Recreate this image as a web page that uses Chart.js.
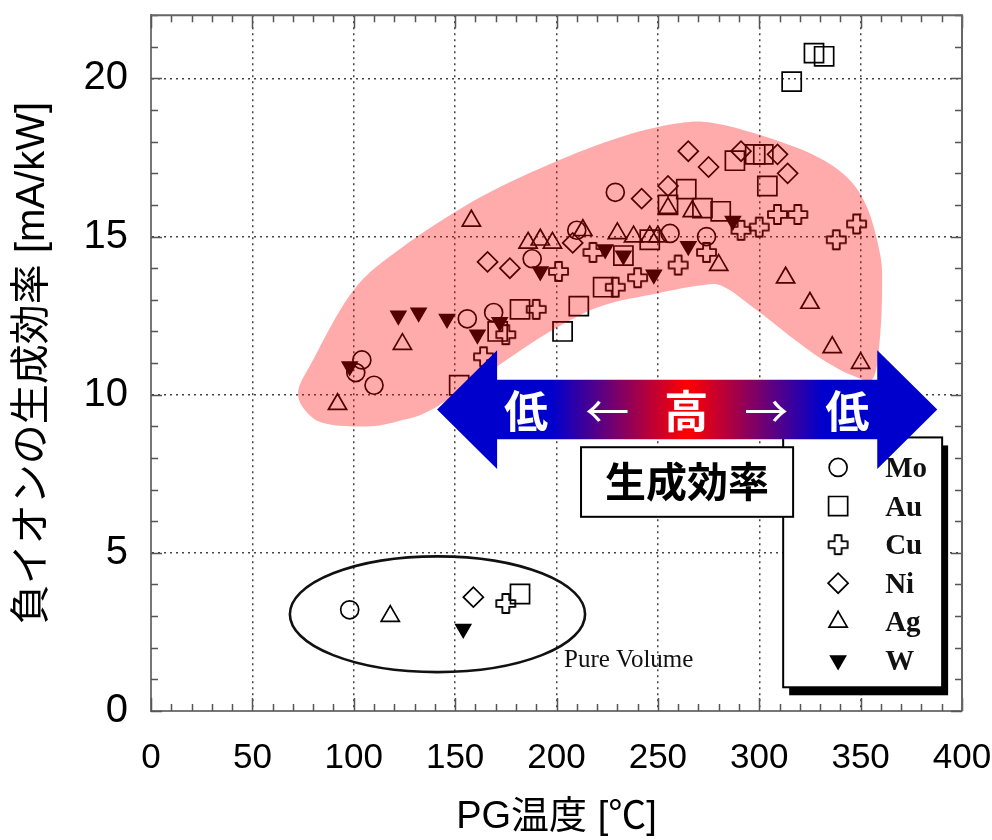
<!DOCTYPE html>
<html>
<head>
<meta charset="utf-8">
<script src="https://cdn.jsdelivr.net/npm/chart.js@4.4.0/dist/chart.umd.min.js"></script>
<style>
html,body{margin:0;padding:0;background:#fff;}
#wrap{width:992px;height:840px;position:relative;}
canvas{display:block;}
</style>
</head>
<body>
<div id="wrap"><canvas id="c" width="992" height="840"></canvas></div>
<script>
// ---------------- data ----------------
const xTitle = 'PG温度 [℃]';
const yTitle = '負イオンの生成効率 [mA/kW]';
const xTickValues = [0, 50, 100, 150, 200, 250, 300, 350, 400];
const yTickValues = [0, 5, 10, 15, 20];
const seriesNames = ['Mo', 'Au', 'Cu', 'Ni', 'Ag', 'W'];

const moX = [98, 104, 101, 110, 156, 169, 188, 210, 229, 256, 274];
const moY = [3.2, 11.1, 10.7, 10.3, 12.4, 12.6, 14.3, 15.2, 16.4, 15.1, 15.0];

const auX = [182, 152, 171, 182, 203, 211, 223, 233, 246, 255, 264, 272, 281, 288, 298, 302, 304, 316, 327, 332];
const auY = [3.7, 10.3, 12.0, 12.7, 12.0, 12.8, 13.4, 14.4, 14.9, 16.0, 16.5, 15.9, 15.8, 17.4, 17.6, 17.6, 16.6, 19.9, 20.8, 20.7];

const cuX = [175, 164, 175, 190, 201, 218, 229, 240, 260, 274, 291, 300, 309, 319, 338, 348];
const cuY = [3.4, 11.2, 11.9, 12.7, 13.9, 14.5, 13.4, 13.7, 14.1, 14.5, 15.2, 15.3, 15.7, 15.7, 14.9, 15.4];

const niX = [159, 166, 177, 208, 242, 255, 265, 275, 291, 309, 314];
const niY = [3.6, 14.2, 14.0, 14.8, 16.2, 16.6, 17.7, 17.2, 17.7, 17.6, 17.0];

const agX = [118, 92, 124, 158, 186, 192, 198, 213, 230, 238, 246, 250, 255, 267, 280, 313, 325, 336, 350];
const agY = [3.0, 9.7, 11.6, 15.5, 14.8, 14.9, 14.8, 15.2, 15.1, 15.0, 15.0, 15.0, 15.9, 15.8, 14.1, 13.7, 12.9, 11.5, 11.0];

const wX = [154, 98, 122, 132, 146, 161, 172, 192, 224, 233, 248, 265, 287];
const wY = [2.6, 10.9, 12.5, 12.6, 12.4, 11.9, 12.3, 13.9, 14.6, 14.4, 13.8, 14.7, 15.5];

// annotation texts
const arrowLabels = ['低', '←', '高', '→', '低'];
const boxLabel = '生成効率';
const pureLabel = 'Pure Volume';

// ---------------- helpers ----------------
function pts(xs, ys) { return xs.map((x, i) => ({x: x, y: ys[i]})); }

function makeCross(size, lw) {
  const pad = 3;
  const c = document.createElement('canvas');
  c.width = c.height = size + pad * 2;
  const g = c.getContext('2d');
  const m = (size + pad * 2) / 2, a = size / 2, b = size * 0.18;
  g.beginPath();
  g.moveTo(m - b, m - a); g.lineTo(m + b, m - a); g.lineTo(m + b, m - b);
  g.lineTo(m + a, m - b); g.lineTo(m + a, m + b); g.lineTo(m + b, m + b);
  g.lineTo(m + b, m + a); g.lineTo(m - b, m + a); g.lineTo(m - b, m + b);
  g.lineTo(m - a, m + b); g.lineTo(m - a, m - b); g.lineTo(m - b, m - b);
  g.closePath();
  g.lineJoin = 'round';
  g.lineWidth = lw; g.strokeStyle = '#000'; g.stroke();
  return c;
}
const crossImg = makeCross(19, 1.8);

function closedSpline(ctx, p) {
  const n = p.length;
  ctx.moveTo(p[0][0], p[0][1]);
  for (let i = 0; i < n; i++) {
    const p0 = p[(i - 1 + n) % n], p1 = p[i], p2 = p[(i + 1) % n], p3 = p[(i + 2) % n];
    ctx.bezierCurveTo(
      p1[0] + (p2[0] - p0[0]) / 6, p1[1] + (p2[1] - p0[1]) / 6,
      p2[0] - (p3[0] - p1[0]) / 6, p2[1] - (p3[1] - p1[1]) / 6,
      p2[0], p2[1]);
  }
  ctx.closePath();
}

// blob outline in data units
const blobShape = [[72.5,10.06],[79.9,11.1],[99.7,13.29],[122.8,14.61],[162.3,16.24],[201.8,17.43],[234.8,18.21],[261,18.59],[277.3,18.59],[300.4,18.21],[326.6,17.59],[343.4,16.87],[353.2,15.92],[359.6,14.45],[360.6,13.42],[359.6,11.85],[356.2,10.53],[346.3,10.6],[331.5,11.1],[315.2,11.85],[299,12.66],[282.2,13.42],[270.8,13.45],[249.6,13.2],[221.5,12.79],[195.4,11.94],[162.3,10.53],[137.6,9.5],[122.8,9.18],[108,9.0],[88.3,9.06],[78.4,9.34]];

const FONT = "'Liberation Sans', 'Noto Sans CJK JP', sans-serif";
const CJK = "'Noto Sans CJK JP', sans-serif";
const SERIF = "'Liberation Serif', 'DejaVu Serif', serif";

function drawMarker(ctx, ds, x, y) {
  ctx.save();
  ctx.lineWidth = ds.pointBorderWidth;
  ctx.strokeStyle = ds.pointBorderColor;
  ctx.fillStyle = ds.pointBackgroundColor;
  if (Chart.helpers && Chart.helpers.drawPoint) {
    Chart.helpers.drawPoint(ctx, {pointStyle: ds.pointStyle, rotation: ds.pointRotation || 0, radius: ds.pointRadius, borderWidth: ds.pointBorderWidth}, x, y);
  } else if (ds.pointStyle instanceof HTMLCanvasElement) {
    ctx.drawImage(ds.pointStyle, x - ds.pointStyle.width / 2, y - ds.pointStyle.height / 2);
  } else {
    ctx.beginPath(); ctx.arc(x, y, ds.pointRadius, 0, Math.PI * 2); ctx.fill(); ctx.stroke();
  }
  ctx.restore();
}

function noPad(s) { s.paddingLeft = 0; s.paddingRight = 0; s.paddingTop = 0; s.paddingBottom = 0; }

// ---------------- plugin for frame, ticks and annotations ----------------
const overlay = {
  id: 'overlay',
  beforeDatasetsDraw(chart) {
    const ctx = chart.ctx, a = chart.chartArea;
    const xs = chart.scales.x, ys = chart.scales.y;
    ctx.save();
    ctx.strokeStyle = '#555';
    ctx.lineWidth = 1.5;
    ctx.beginPath();
    for (let v = 0; v <= 22; v += 1) {
      const yy = Math.round(ys.getPixelForValue(v)) + 0.5;
      const L = v % 5 === 0 ? 11 : 7;
      ctx.moveTo(a.left, yy); ctx.lineTo(a.left + L, yy);
      ctx.moveTo(a.right, yy); ctx.lineTo(a.right - L, yy);
    }
    for (let v = 0; v <= 400; v += 10) {
      const xx = Math.round(xs.getPixelForValue(v)) + 0.5;
      const L = v % 50 === 0 ? 13 : 7;
      ctx.moveTo(xx, a.bottom); ctx.lineTo(xx, a.bottom - L);
      ctx.moveTo(xx, a.top); ctx.lineTo(xx, a.top + L);
    }
    ctx.stroke();
    ctx.strokeStyle = '#666';
    ctx.lineWidth = 2;
    ctx.beginPath();
    ctx.moveTo(a.left, a.top); ctx.lineTo(a.right, a.top); ctx.lineTo(a.right, a.bottom);
    ctx.stroke();
    ctx.restore();
  },
  afterDatasetsDraw(chart) {
    const ctx = chart.ctx;
    const xs = chart.scales.x, ys = chart.scales.y;
    const X = v => xs.getPixelForValue(v), Y = v => ys.getPixelForValue(v);
    const ux = X(1) - X(0), uy = Y(0) - Y(1);

    // translucent pink region
    ctx.save();
    ctx.beginPath();
    closedSpline(ctx, blobShape.map(p => [X(p[0]), Y(p[1])]));
    ctx.fillStyle = 'rgba(255,0,0,0.33)';
    ctx.fill();
    ctx.restore();

    // ellipse around pure volume points
    ctx.save();
    ctx.beginPath();
    ctx.ellipse(X(141.3), Y(3.06), 72.8 * ux, 1.83 * uy, 0, 0, Math.PI * 2);
    ctx.lineWidth = 2.6; ctx.strokeStyle = '#111';
    ctx.stroke();
    ctx.font = '25px ' + SERIF;
    ctx.fillStyle = '#111';
    ctx.textBaseline = 'alphabetic';
    ctx.fillText(pureLabel, X(203.7), Y(1.38));
    ctx.restore();

    // legend box with shadow
    const lx1 = X(311.8), lx2 = X(390.2), ly1 = Y(8.65), ly2 = Y(0.75);
    ctx.save();
    ctx.fillStyle = '#000';
    ctx.fillRect(lx1 + 6, ly1 + 8, lx2 - lx1, ly2 - ly1);
    ctx.fillStyle = '#fff';
    ctx.fillRect(lx1, ly1, lx2 - lx1, ly2 - ly1);
    ctx.lineWidth = 2; ctx.strokeStyle = '#000';
    ctx.strokeRect(lx1, ly1, lx2 - lx1, ly2 - ly1);
    ctx.font = 'bold 29px ' + SERIF;
    ctx.textBaseline = 'middle';
    ctx.fillStyle = '#111';
    chart.data.datasets.forEach((ds, i) => {
      const ry = Y(7.7 - i * 1.22);
      drawMarker(ctx, ds, X(338.9), ry);
      ctx.fillText(ds.label, X(362.1), ry + 2);
    });
    ctx.restore();

    // 生成効率 box
    const bx1 = X(212.1), bx2 = X(316.7), by1 = Y(8.34), by2 = Y(6.14);
    ctx.save();
    ctx.fillStyle = '#fff';
    ctx.fillRect(bx1, by1, bx2 - bx1, by2 - by1);
    ctx.lineWidth = 2; ctx.strokeStyle = '#000';
    ctx.strokeRect(bx1, by1, bx2 - bx1, by2 - by1);
    ctx.font = 'bold 41px ' + CJK;
    ctx.fillStyle = '#000';
    ctx.textAlign = 'center'; ctx.textBaseline = 'middle';
    ctx.fillText(boxLabel, X(264.4), Y(7.25));
    ctx.restore();

    // double-headed gradient arrow
    const tL = X(141.1), hL = X(170.7), hR = X(358.2), tR = X(387.8);
    const cy = Y(9.53), sh = 0.94 * uy, hh = 1.88 * uy;
    ctx.save();
    const grad = ctx.createLinearGradient(tL, 0, tR, 0);
    grad.addColorStop(0, '#0000cc');
    grad.addColorStop(0.23, '#0000cc');
    grad.addColorStop(0.5, '#ff0000');
    grad.addColorStop(0.77, '#0000cc');
    grad.addColorStop(1, '#0000cc');
    ctx.beginPath();
    ctx.moveTo(tL, cy);
    ctx.lineTo(hL, cy - hh); ctx.lineTo(hL, cy - sh);
    ctx.lineTo(hR, cy - sh); ctx.lineTo(hR, cy - hh);
    ctx.lineTo(tR, cy);
    ctx.lineTo(hR, cy + hh); ctx.lineTo(hR, cy + sh);
    ctx.lineTo(hL, cy + sh); ctx.lineTo(hL, cy + hh);
    ctx.closePath();
    ctx.fillStyle = grad;
    ctx.fill();
    ctx.fillStyle = '#fff';
    ctx.textAlign = 'center'; ctx.textBaseline = 'middle';
    const ax = [185, 225, 264, 303.4, 343.4];
    arrowLabels.forEach((t, i) => {
      ctx.font = (i % 2 === 0 ? 'bold ' : '') + '44px ' + CJK;
      ctx.fillText(t, X(ax[i]), cy + 2);
    });
    ctx.restore();
  }
};

// ---------------- chart ----------------
const datasets = [
  {label: seriesNames[0], data: pts(moX, moY), pointStyle: 'circle', pointRadius: 9},
  {label: seriesNames[1], data: pts(auX, auY), pointStyle: 'rect', pointRadius: 13.5},
  {label: seriesNames[2], data: pts(cuX, cuY), pointStyle: crossImg, pointRadius: 10},
  {label: seriesNames[3], data: pts(niX, niY), pointStyle: 'rectRot', pointRadius: 10},
  {label: seriesNames[4], data: pts(agX, agY), pointStyle: 'triangle', pointRadius: 10.5},
  {label: seriesNames[5], data: pts(wX, wY), pointStyle: 'triangle', pointRotation: 180, pointRadius: 8.5, pointBackgroundColor: '#000'}
].map(d => Object.assign({
  pointBorderColor: '#000',
  pointBackgroundColor: 'rgba(0,0,0,0)',
  pointBorderWidth: 1.7,
  pointHoverRadius: d.pointRadius,
  showLine: false
}, d));

Chart.defaults.font.family = FONT;
Chart.defaults.color = '#000';

new Chart(document.getElementById('c'), {
  type: 'scatter',
  data: {datasets: datasets},
  options: {
    responsive: false,
    devicePixelRatio: 1,
    animation: false,
    events: [],
    layout: {padding: {top: 8, right: 30, left: 0, bottom: 0}},
    plugins: {legend: {display: false}, tooltip: {enabled: false}},
    scales: {
      x: {
        type: 'linear', min: 0, max: 400,
        afterBuildTicks: s => { s.ticks = xTickValues.map(v => ({value: v})); },
        afterFit: s => { s.height = 129; noPad(s); },
        ticks: {font: {size: 35}, color: '#000', padding: 26, maxRotation: 0, autoSkip: false},
        grid: {
          drawTicks: false, lineWidth: 1.5,
          color: c => (c.tick && c.tick.value > 0 && c.tick.value < 400) ? '#444' : 'rgba(0,0,0,0)'
        },
        border: {display: true, color: '#777', width: 2, dash: [2, 4]},
        title: {display: true, text: xTitle, font: {size: 38}, color: '#000', padding: {top: 3, bottom: 0}}
      },
      y: {
        type: 'linear', min: 0, max: 22,
        afterBuildTicks: s => { s.ticks = yTickValues.map(v => ({value: v})); },
        afterFit: s => { s.width = 151; noPad(s); },
        ticks: {font: {size: 40}, color: '#000', padding: 23},
        grid: {
          drawTicks: false, lineWidth: 1.5,
          color: c => (c.tick && c.tick.value > 0 && c.tick.value < 22) ? '#444' : 'rgba(0,0,0,0)'
        },
        border: {display: true, color: '#777', width: 2, dash: [2, 4]},
        title: {display: true, text: yTitle, font: {size: 40}, color: '#000', padding: {top: 9, bottom: 0}}
      }
    }
  },
  plugins: [overlay]
});
</script>
</body>
</html>
